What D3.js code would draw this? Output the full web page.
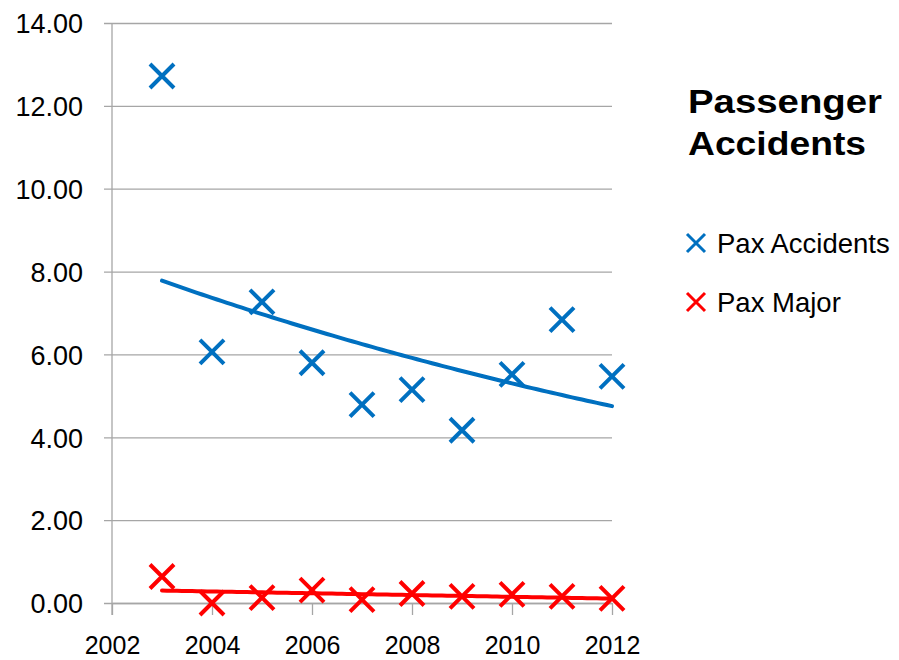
<!DOCTYPE html>
<html>
<head>
<meta charset="utf-8">
<script src="https://cdn.jsdelivr.net/npm/d3@7"></script>
<style>
  body { margin: 0; background: #fff; overflow: hidden; }
  svg { display: block; }
  text { font-family: "Liberation Sans", Arial, sans-serif; fill: #000; }
</style>
</head>
<body>
<div id="chart"></div>
<script>

var years = [2003, 2004, 2005, 2006, 2007, 2008, 2009, 2010, 2011, 2012];
var paxAccidents = [12.72, 6.06, 7.27, 5.80, 4.79, 5.15, 4.17, 5.52, 6.84, 5.47];
var paxMajor = [0.64, 0.00, 0.13, 0.31, 0.08, 0.23, 0.16, 0.21, 0.16, 0.11];
var xTicks = [2002, 2004, 2006, 2008, 2010, 2012];
var yTicks = [0, 2, 4, 6, 8, 10, 12, 14];
var seriesNames = ['Pax Accidents', 'Pax Major'];
var titleLines = ['Passenger', 'Accidents'];

var width = 899,
    height = 660,
    margin = {top: 23, right: 287, bottom: 57, left: 112},
    innerWidth = width - margin.left - margin.right,
    innerHeight = height - margin.top - margin.bottom,
    colors = ['#0070C0', '#FF0000'],
    gridColor = '#A6A6A6';

var xScale = d3.scaleLinear().domain([2002, 2012]).range([0, innerWidth]);
var yScale = d3.scaleLinear().domain([0, 14]).range([innerHeight, 0]);

var svg = d3.select('#chart')
            .append('svg')
            .attr('width', width)
            .attr('height', height);

var g = svg.append('g')
           .attr('transform', 'translate(' + margin.left + ',' + margin.top + ')');

// gridlines + y labels
var yAxis = d3.axisLeft(yScale)
              .tickValues(yTicks)
              .tickFormat(d3.format('.2f'))
              .tickSizeInner(-innerWidth)
              .tickPadding(29);

var yG = g.append('g').attr('class', 'y axis').call(yAxis);
yG.select('.domain').remove();
yG.selectAll('.tick line')
  .attr('x1', -8)
  .attr('stroke', gridColor)
  .attr('stroke-width', 1.3);
yG.selectAll('.tick text')
  .attr('font-size', 27)
  .attr('x', -29)
  .attr('dy', '0.36em')
  .style('font-family', '"Liberation Sans", Arial, sans-serif');

// x axis at zero
var xAxis = d3.axisBottom(xScale)
              .tickValues(xTicks)
              .tickFormat(d3.format('d'))
              .tickSizeInner(12)
              .tickSizeOuter(0);

var xG = g.append('g')
          .attr('class', 'x axis')
          .attr('transform', 'translate(0,' + yScale(0) + ')')
          .call(xAxis);
xG.select('.domain').attr('stroke', gridColor).attr('stroke-width', 1.3);
xG.selectAll('.tick line').attr('stroke', gridColor).attr('stroke-width', 1.3);
xG.selectAll('.tick text')
  .attr('y', 51)
  .attr('dy', 0)
  .attr('font-size', 25)
  .style('font-family', '"Liberation Sans", Arial, sans-serif');

// vertical axis line
g.append('line')
 .attr('x1', xScale(2002)).attr('x2', xScale(2002))
 .attr('y1', yScale(14)).attr('y2', yScale(0) + 12)
 .attr('stroke', gridColor)
 .attr('stroke-width', 1.3);

// trendlines
function expFit(xs, ys) {
  var lx = d3.mean(xs), ly = d3.mean(ys, (v) => Math.log(v));
  var sxy = d3.sum(xs, (x, i) => (x - lx) * (Math.log(ys[i]) - ly));
  var sxx = d3.sum(xs, (x) => (x - lx) * (x - lx));
  var b = sxy / sxx;
  return (x) => Math.exp(ly + b * (x - lx));
}

function linFit(xs, ys) {
  var mx = d3.mean(xs), my = d3.mean(ys);
  var sxy = d3.sum(xs, (x, i) => (x - mx) * (ys[i] - my));
  var sxx = d3.sum(xs, (x) => (x - mx) * (x - mx));
  var b = sxy / sxx;
  return (x) => my + b * (x - mx);
}

var fits = [expFit(years, paxAccidents), linFit(years, paxMajor)];
var sampleX = d3.range(years[0], years[years.length - 1] + 0.001, 0.1);

var line = d3.line()
             .x((d) => xScale(d[0]))
             .y((d) => yScale(d[1]));

fits.forEach((f, i) => {
  g.append('path')
   .datum(sampleX.map((x) => [x, f(x)]))
   .attr('d', line)
   .attr('fill', 'none')
   .attr('stroke', colors[i])
   .attr('stroke-width', 4)
   .attr('stroke-linecap', 'round');
});

// markers
function xMark(s) {
  return 'M' + (-s) + ',' + (-s) + 'L' + s + ',' + s + 'M' + (-s) + ',' + s + 'L' + s + ',' + (-s);
}

[paxAccidents, paxMajor].forEach((vals, i) => {
  g.selectAll('.mark-' + i)
   .data(vals)
   .enter()
   .append('path')
   .attr('class', 'mark-' + i)
   .attr('transform', (d, j) => 'translate(' + xScale(years[j]) + ',' + yScale(d) + ')')
   .attr('d', xMark(12))
   .attr('fill', 'none')
   .attr('stroke', colors[i])
   .attr('stroke-width', 4);
});

// legend title
var legend = svg.append('g').attr('transform', 'translate(688,0)');

legend.selectAll('.title')
      .data(titleLines)
      .enter()
      .append('text')
      .attr('class', 'title')
      .attr('x', 0)
      .attr('y', (d, i) => 113 + i * 42)
      .attr('font-size', 34)
      .attr('font-weight', 'bold')
      .attr('textLength', (d, i) => i === 0 ? 194 : 178)
      .attr('lengthAdjust', 'spacingAndGlyphs')
      .text((d) => d);

var items = legend.selectAll('.item')
                  .data(seriesNames)
                  .enter()
                  .append('g')
                  .attr('class', 'item')
                  .attr('transform', (d, i) => 'translate(0,' + (243 + i * 59) + ')');

items.append('path')
     .attr('transform', 'translate(8,0)')
     .attr('d', xMark(9))
     .attr('fill', 'none')
     .attr('stroke', (d, i) => colors[i])
     .attr('stroke-width', 3);

items.append('text')
     .attr('x', 29)
     .attr('dy', '0.36em')
     .attr('font-size', 27.5)
     .text((d) => d);

</script>
</body>
</html>
